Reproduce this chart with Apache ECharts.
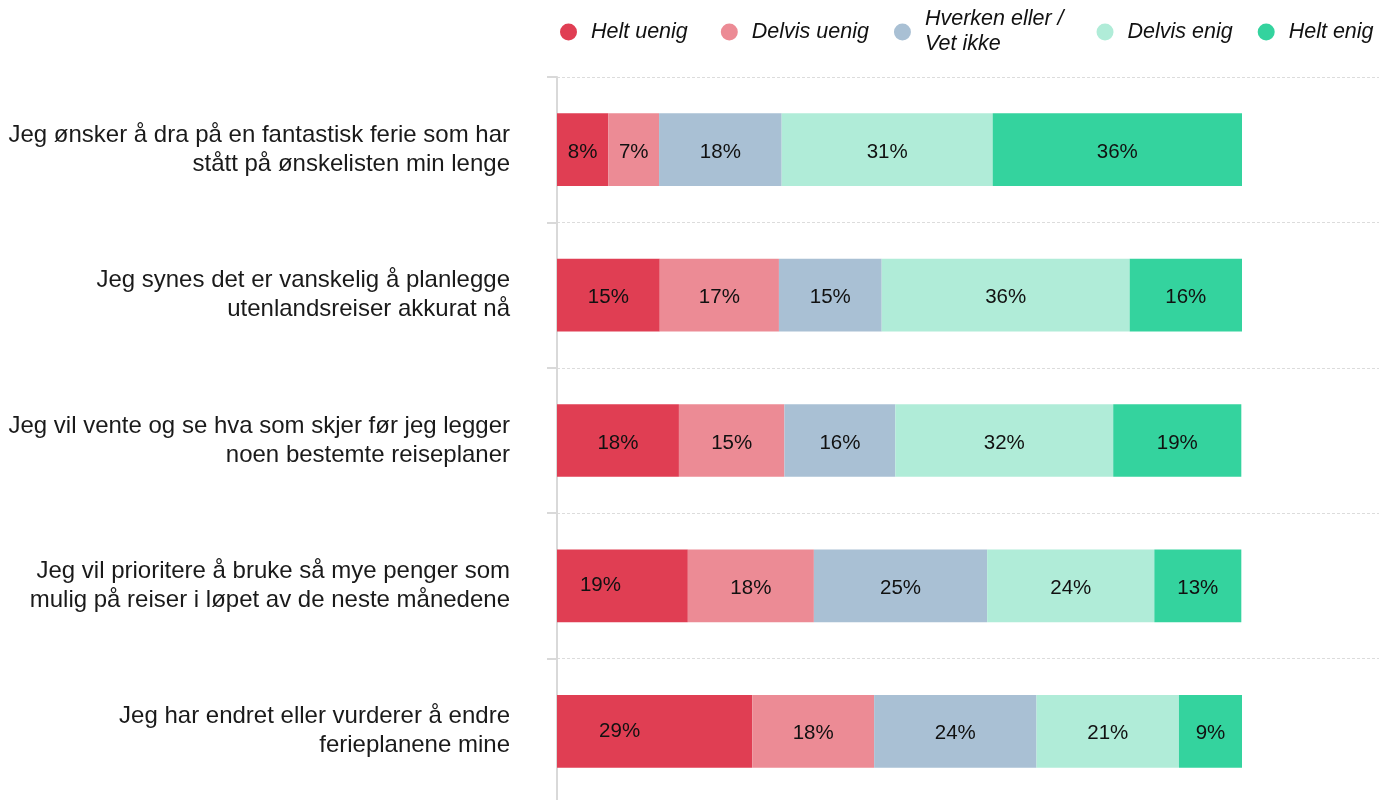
<!DOCTYPE html>
<html>
<head>
<meta charset="utf-8">
<script src="https://cdn.jsdelivr.net/npm/echarts@6/dist/echarts.min.js"></script>
<style>
html,body{margin:0;padding:0;background:#fff;}
#chart{width:1379px;height:800px;}
</style>
</head>
<body>
<div id="chart"></div>
<script>
const categories = [
  'Jeg ønsker å dra på en fantastisk ferie som har\nstått på ønskelisten min lenge',
  'Jeg synes det er vanskelig å planlegge\nutenlandsreiser akkurat nå',
  'Jeg vil vente og se hva som skjer før jeg legger\nnoen bestemte reiseplaner',
  'Jeg vil prioritere å bruke så mye penger som\nmulig på reiser i løpet av de neste månedene',
  'Jeg har endret eller vurderer å endre\nferieplanene mine'
];
const seriesNames = ['Helt uenig', 'Delvis uenig', 'Hverken eller /\nVet ikke', 'Delvis enig', 'Helt enig'];
const heltUenig   = [7.5, 15.0, 17.8, 19.1, 28.5];
const delvisUenig = [7.4, 17.4, 15.4, 18.4, 17.8];
const hverken     = [17.9, 15.0, 16.2, 25.3, 23.7];
const delvisEnig  = [30.8, 36.2, 31.8, 24.4, 20.8];
const heltEnig    = [36.4, 16.4, 18.7, 12.7, 9.2];

const colors = ['#e03e53', '#ec8b95', '#a9c0d4', '#b0ecd8', '#34d39e'];
const values = [heltUenig, delvisUenig, hverken, delvisEnig, heltEnig];
const FONT = '"Liberation Sans", Arial, sans-serif';

// label offsets for a few labels that sit off-centre in the reference
const labelOffsets = { '0-3': [-22, -1], '0-4': [-35, 0] };

const series = values.map((arr, si) => ({
  name: seriesNames[si],
  type: 'bar',
  stack: 'total',
  barWidth: '50%',
  itemStyle: { color: colors[si] },
  label: {
    show: true,
    position: 'inside',
    color: '#111',
    fontSize: 20.5,
    fontFamily: FONT,
    offset: [0, 2.5],
    formatter: p => Math.round(p.value) + '%'
  },
  data: arr.map((v, i) => {
    const off = labelOffsets[si + '-' + i];
    return off ? { value: v, label: { offset: off } } : v;
  })
}));

const legendText = { fontSize: 21.5, fontStyle: 'italic', fontFamily: FONT, color: '#111', lineHeight: 25, padding: [0, 0, 0, 9] };
const legendPads = [[0, 8, 0, 9], [0, 0, 0, 9], [4, 8, 0, 9], [0, 0, 0, 9], [0, 0, 0, 9]];
const legendData = seriesNames.map((n, i) => ({
  name: n,
  textStyle: Object.assign({}, legendText, { padding: legendPads[i] })
}));

const chart = echarts.init(document.getElementById('chart'), null, { renderer: 'canvas' });
chart.setOption({
  animation: false,
  color: colors,
  legend: {
    data: legendData,
    left: 555,
    top: 0,
    width: 1000,
    icon: 'circle',
    itemWidth: 17,
    itemHeight: 17,
    itemGap: 25,
    selectedMode: false,
    textStyle: legendText
  },
  grid: { left: 557, right: 0, top: 77, height: 727, containLabel: false, outerBoundsMode: 'none' },
  xAxis: {
    type: 'value',
    min: 0,
    max: 120,
    show: false
  },
  yAxis: {
    type: 'category',
    inverse: true,
    data: categories,
    axisLine: { show: true, lineStyle: { color: '#d9d9d9', width: 2 } },
    axisTick: { show: true, length: 10, lineStyle: { color: '#d9d9d9', width: 2 } },
    splitLine: { show: true, lineStyle: { color: '#dcdcdc', type: [3, 2], width: 1 } },
    axisLabel: {
      margin: 47,
      fontSize: 24,
      lineHeight: 29,
      color: '#1a1a1a',
      fontFamily: FONT,
      align: 'right'
    }
  },
  series: series
});
</script>
</body>
</html>
